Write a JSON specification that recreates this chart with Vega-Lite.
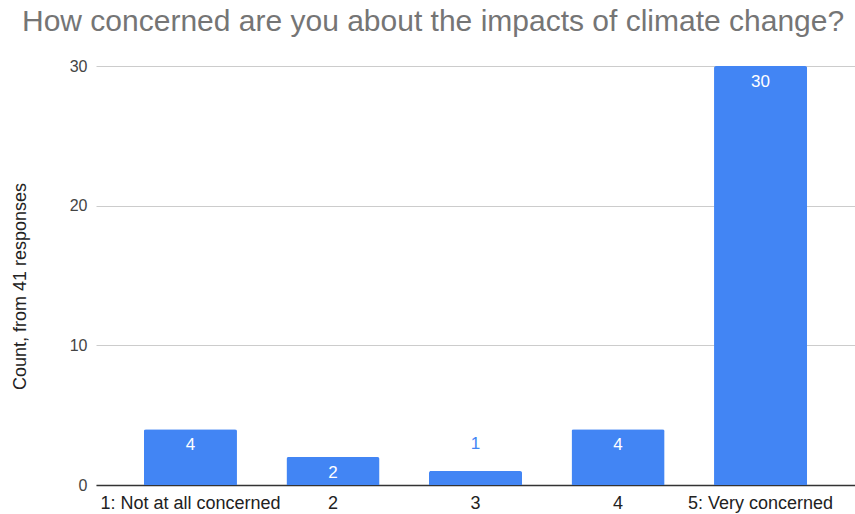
{
  "$schema": "https://vega.github.io/schema/vega-lite/v6.json",
  "width": 759,
  "height": 419,
  "autosize": {"type": "none"},
  "padding": {"left": 96, "top": 66, "right": 0, "bottom": 29},
  "background": "white",
  "title": {
    "text": "How concerned are you about the impacts of climate change?",
    "anchor": "start",
    "frame": "group",
    "dx": -74,
    "offset": 21,
    "font": "Liberation Sans",
    "fontSize": 30,
    "fontWeight": "normal",
    "color": "#757575"
  },
  "config": {
    "view": {"stroke": null},
    "font": "Liberation Sans"
  },
  "data": {
    "values": [
      {"response": "1: Not at all concerned", "count": 4},
      {"response": "2", "count": 2},
      {"response": "3", "count": 1},
      {"response": "4", "count": 4},
      {"response": "5: Very concerned", "count": 30}
    ]
  },
  "encoding": {
    "x": {
      "field": "response",
      "type": "nominal",
      "sort": null,
      "scale": {"paddingInner": 0.347, "paddingOuter": 0.336},
      "axis": {
        "title": null,
        "labelAngle": 0,
        "labelFontSize": 18,
        "labelColor": "#222222",
        "labelPadding": 9,
        "labelLimit": 0,
        "ticks": false,
        "domainColor": "#333333",
        "domainWidth": 1.5,
        "grid": false
      }
    },
    "y": {
      "field": "count",
      "type": "quantitative",
      "scale": {"domain": [0, 30], "nice": false},
      "axis": {
        "title": "Count, from 41 responses",
        "titleFontSize": 18,
        "titleFontWeight": "normal",
        "titleColor": "#222222",
        "titleX": -76,
        "titleY": 220,
        "titleAngle": -90,
        "titleAlign": "center",
        "titleBaseline": "middle",
        "values": [0, 10, 20, 30],
        "labelFontSize": 16,
        "labelColor": "#444444",
        "labelPadding": 9,
        "ticks": false,
        "domain": false,
        "grid": true,
        "gridColor": "#cccccc"
      }
    }
  },
  "layer": [
    {
      "mark": {
        "type": "bar",
        "color": "#4285F4",
        "cornerRadiusTopLeft": 2,
        "cornerRadiusTopRight": 2
      }
    },
    {
      "transform": [{"filter": "datum.count >= 2"}],
      "mark": {
        "type": "text",
        "color": "white",
        "fontSize": 17,
        "baseline": "middle",
        "dy": 16
      },
      "encoding": {"text": {"field": "count", "type": "quantitative"}}
    },
    {
      "transform": [{"filter": "datum.count < 2"}],
      "mark": {
        "type": "text",
        "color": "#4285F4",
        "fontSize": 17,
        "baseline": "middle",
        "dy": -27
      },
      "encoding": {"text": {"field": "count", "type": "quantitative"}}
    }
  ]
}
